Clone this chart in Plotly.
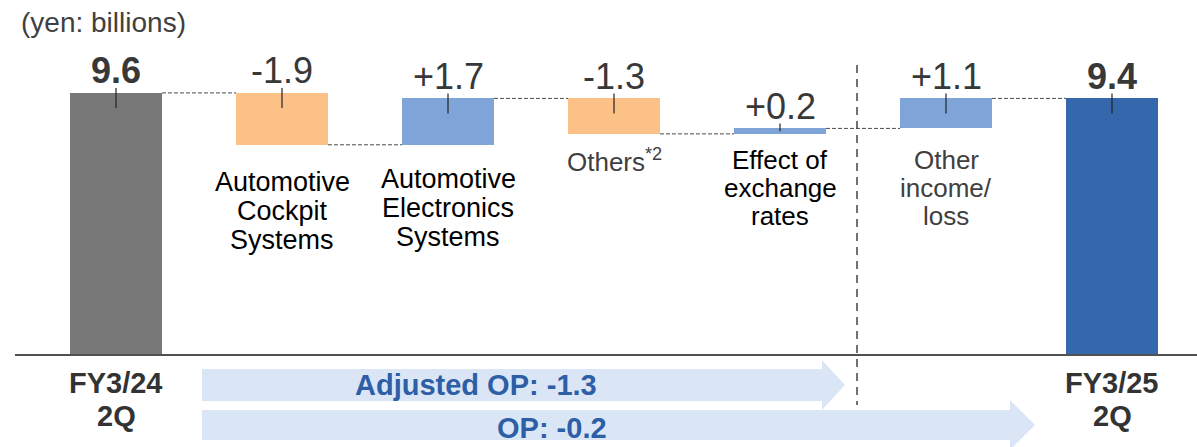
import plotly.graph_objects as go

# ---------------- data ----------------
categories = ["FY3/24 2Q", "Automotive Cockpit Systems", "Automotive Electronics Systems",
              "Others*2", "Effect of exchange rates", "Other income/loss", "FY3/25 2Q"]
values = [9.6, -1.9, 1.7, -1.3, 0.2, 1.1, 9.4]
value_labels = ["9.6", "-1.9", "+1.7", "-1.3", "+0.2", "+1.1", "9.4"]
is_total = [True, False, False, False, False, False, True]
category_lines = [["FY3/24", "2Q"],
                  ["Automotive", "Cockpit", "Systems"],
                  ["Automotive", "Electronics", "Systems"],
                  ["Others<sup>*2</sup>"],
                  ["Effect of", "exchange", "rates"],
                  ["Other", "income/", "loss"],
                  ["FY3/25", "2Q"]]
arrow_labels = ["Adjusted OP: -1.3", "OP: -0.2"]
unit_label = "(yen: billions)"

# ---------------- styles ----------------
bar_colors = ["#787878", "#FCC187", "#7FA5D8", "#FCC187", "#7FA5D8", "#7FA5D8", "#3567AC"]
label_colors = ["#333333", "black", "black", "#404040", "black", "#404040", "#333333"]
label_sizes = [29, 27, 27, 26, 26, 26, 29]
label_first_py = [383, 182, 179, 160, 160, 160, 383]
label_spacing = [33, 29, 29, 28, 28, 28, 33]

W, H = 1197, 447
ML, MR, MT, MB = 33, 2, 27, 92
PW, PH = W - ML - MR, H - MT - MB
PX_PER_UNIT = 27.3
YMAX = PH / PX_PER_UNIT
BAR_W = 0.554


def px2paper_x(px):
    return (px - ML) / PW


def px2paper_y(py):
    return (H - MB - py) / PH


# ---------------- waterfall computation ----------------
bases, heights, tops = [], [], []
cum = 0.0
levels_after = []
for v, tot in zip(values, is_total):
    if tot:
        b, h = 0.0, v
        cum = v
    else:
        b = cum if v > 0 else cum + v
        h = abs(v)
        cum += v
    bases.append(b)
    heights.append(h)
    tops.append(b + h)
    levels_after.append(cum)

xs = list(range(len(categories)))

fig = go.Figure()
fig.add_trace(go.Bar(x=xs, y=heights, base=bases, width=BAR_W,
                     marker=dict(color=bar_colors, line=dict(width=0)),
                     hoverinfo="skip", showlegend=False))

# connectors
cx, cy = [], []
for i in range(len(xs) - 1):
    lvl = levels_after[i]
    cx += [i + BAR_W / 2, i + 1 - BAR_W / 2, None]
    cy += [lvl, lvl, None]
fig.add_trace(go.Scatter(x=cx, y=cy, mode="lines",
                         line=dict(color="#4a4a4a", width=1, dash="4px,2px"),
                         hoverinfo="skip", showlegend=False))

# label tick lines
tx, ty = [], []
for i in xs:
    t = tops[i]
    down = min(15 / PX_PER_UNIT, 0.5 * heights[i])
    tx += [i, i, None]
    ty += [t + 5 / PX_PER_UNIT, t - down, None]
fig.add_trace(go.Scatter(x=tx, y=ty, mode="lines",
                         line=dict(color="#222222", width=1.2),
                         hoverinfo="skip", showlegend=False))

annotations = []
# value labels
for i in xs:
    txt = f"<b>{value_labels[i]}</b>" if is_total[i] else value_labels[i]
    annotations.append(dict(x=i, y=tops[i], xref="x", yref="y", text=txt,
                            showarrow=False, yanchor="middle", yshift=22,
                            font=dict(size=36, color="#383838",
                                      family="Liberation Sans, Arial, sans-serif")))

# category labels
for i in xs:
    for k, line in enumerate(category_lines[i]):
        py = label_first_py[i] + k * label_spacing[i]
        txt = f"<b>{line}</b>" if is_total[i] else line
        annotations.append(dict(x=i, y=px2paper_y(py), xref="x", yref="paper",
                                text=txt, showarrow=False, yanchor="middle",
                                font=dict(size=label_sizes[i], color=label_colors[i],
                                          family="Liberation Sans, Arial, sans-serif")))

# unit label
annotations.append(dict(x=px2paper_x(19), y=px2paper_y(22), xref="paper", yref="paper",
                        text=unit_label, showarrow=False, xanchor="left", yanchor="middle",
                        font=dict(size=28, color="#404040",
                                  family="Liberation Sans, Arial, sans-serif")))

shapes = []
# axis baseline
shapes.append(dict(type="line", xref="paper", yref="paper",
                   x0=px2paper_x(15), x1=px2paper_x(1197),
                   y0=px2paper_y(355), y1=px2paper_y(355),
                   line=dict(color="#505050", width=2)))
# vertical dashed separator
shapes.append(dict(type="line", xref="paper", yref="paper",
                   x0=px2paper_x(857), x1=px2paper_x(857),
                   y0=px2paper_y(65), y1=px2paper_y(405),
                   line=dict(color="#444444", width=1.5, dash="8px,6px")))


def arrow_path(x0, xb, xt, yb1, yb2, yh1, yh2):
    ym = (yh1 + yh2) / 2
    pts = [(x0, yb1), (xb, yb1), (xb, yh1), (xt, ym), (xb, yh2), (xb, yb2), (x0, yb2)]
    s = "M " + " L ".join(f"{px2paper_x(a):.5f},{px2paper_y(b):.5f}" for a, b in pts) + " Z"
    return s


arrow_geo = [(202, 822, 845, 369, 401, 360, 410),
             (202, 1010, 1035, 410, 440, 400, 450)]
for g in arrow_geo:
    shapes.append(dict(type="path", xref="paper", yref="paper", path=arrow_path(*g),
                       fillcolor="#DAE6F6", line=dict(width=0), layer="below"))

arrow_text_pos = [(476, 385), (552, 428)]
for lbl, (px, py) in zip(arrow_labels, arrow_text_pos):
    annotations.append(dict(x=px2paper_x(px), y=px2paper_y(py), xref="paper", yref="paper",
                            text=f"<b>{lbl}</b>", showarrow=False, yanchor="middle",
                            font=dict(size=29, color="#2E5EA6",
                                      family="Liberation Sans, Arial, sans-serif")))

fig.update_layout(
    width=W, height=H,
    margin=dict(l=ML, r=MR, t=MT, b=MB),
    plot_bgcolor="white", paper_bgcolor="white",
    xaxis=dict(range=[-0.5, len(xs) - 0.5], visible=False, fixedrange=True),
    yaxis=dict(range=[0, YMAX], visible=False, fixedrange=True),
    annotations=annotations, shapes=shapes, bargap=0,
    showlegend=False,
)

fig.write_html("out.html",
               config={"displayModeBar": False, "staticPlot": True},
               post_script="document.body.style.margin='0';document.body.style.overflow='hidden';")
